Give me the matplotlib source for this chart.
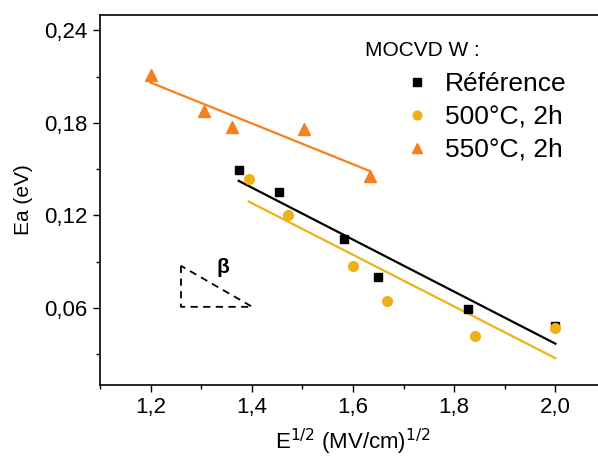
import numpy as np
import matplotlib
matplotlib.use("Agg")
import matplotlib.pyplot as plt
from matplotlib.ticker import MultipleLocator, FuncFormatter

plt.rcParams['font.family'] = ['Liberation Sans', 'DejaVu Sans']

# Data
ref_x = [1.374, 1.453, 1.582, 1.650, 1.827, 2.000]
ref_y = [0.1494, 0.1351, 0.1047, 0.0803, 0.0596, 0.0484]
c500_x = [1.394, 1.472, 1.600, 1.667, 1.841, 2.000]
c500_y = [0.1434, 0.1203, 0.0873, 0.0644, 0.0419, 0.0467]
c550_x = [1.200, 1.305, 1.361, 1.504, 1.633]
c550_y = [0.2110, 0.1880, 0.1775, 0.1760, 0.1455]

legend_labels = ["Référence", "500°C, 2h", "550°C, 2h"]
legend_title = "MOCVD W :"

# slope triangle decoration
tri_x = [1.260, 1.260, 1.401, 1.260]
tri_y = [0.0873, 0.0607, 0.0607, 0.0873]

BLACK = "#000000"
YELLOW = "#EDB219"
ORANGE = "#F7801E"

fig = plt.figure(figsize=(5.98, 4.59), dpi=100)
ax = fig.add_axes([100/598, 1 - 385/459, 506/598, 370/459])

def fit_line(x, y, color):
    p = np.polyfit(x, y, 1)
    xs = np.array([min(x), max(x)])
    ax.plot(xs, np.polyval(p, xs), color=color, lw=1.6, zorder=2)

fit_line(ref_x, ref_y, BLACK)
fit_line(c500_x, c500_y, YELLOW)
fit_line(c550_x, c550_y, ORANGE)

h1, = ax.plot(ref_x, ref_y, 's', color=BLACK, ms=6, ls='none', zorder=3)
h2, = ax.plot(c500_x, c500_y, 'o', color=YELLOW, ms=7, ls='none', zorder=3)
h3, = ax.plot(c550_x, c550_y, '^', color=ORANGE, ms=8, ls='none', zorder=3)

ax.plot(tri_x, tri_y, color='black', ls=(0, (4, 3)), lw=1.3)
ax.text(1.3436, 0.0865, "β", fontsize=15, fontweight='bold', ha='center', va='center')

ax.set_xlim(1.1, 2.1)
ax.set_ylim(0.01, 0.25)
ax.xaxis.set_major_locator(MultipleLocator(0.2))
ax.xaxis.set_minor_locator(MultipleLocator(0.1))
ax.yaxis.set_major_locator(MultipleLocator(0.06))
ax.yaxis.set_minor_locator(MultipleLocator(0.03))
ax.xaxis.set_major_formatter(FuncFormatter(lambda v, p: f"{v:.1f}".replace('.', ',')))
ax.yaxis.set_major_formatter(FuncFormatter(lambda v, p: f"{v:.2f}".replace('.', ',')))
ax.tick_params(which='major', direction='out', length=5, width=1, labelsize=16, right=True, top=False, pad=4)
ax.tick_params(which='minor', direction='out', length=3, width=1, right=True)
for s in ax.spines.values():
    s.set_linewidth(1.2)

ax.set_xlabel("E$^{1/2}$ (MV/cm)$^{1/2}$", fontsize=16, labelpad=6)
ax.set_ylabel("Ea (eV)", fontsize=15, labelpad=8)

ax.text(365/598, 1 - 51/459, legend_title, transform=fig.transFigure, fontsize=15, va='center', ha='left')
leg = ax.legend([h1, h2, h3], legend_labels, loc='upper left',
                bbox_to_anchor=(409/598, 1 - 72/459), bbox_transform=fig.transFigure,
                frameon=False, fontsize=19, handlelength=0.6, handletextpad=0.75,
                labelspacing=0.34, borderaxespad=0, borderpad=0, markerscale=0.9)

fig.savefig("out.png", dpi=100)
